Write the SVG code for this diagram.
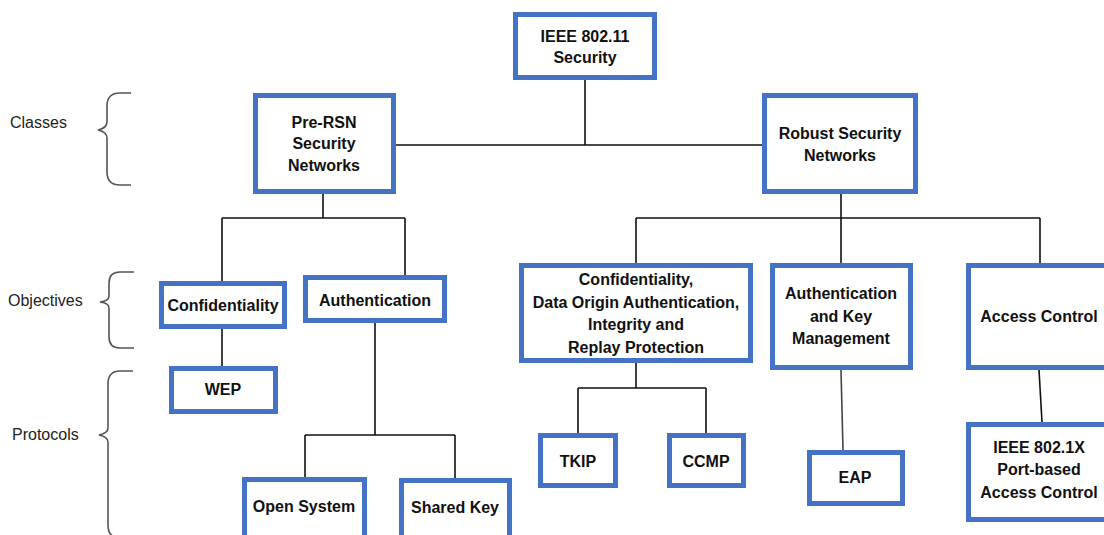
<svg xmlns="http://www.w3.org/2000/svg" width="1104" height="535" viewBox="0 0 1104 535">
<style>
.box{fill:#fff;stroke:#4472c4;stroke-width:5}
.t{font-family:"Liberation Sans",Arial,sans-serif;font-weight:bold;font-size:16px;fill:#111;text-anchor:middle}
.s{font-family:"Liberation Sans",Arial,sans-serif;font-size:16px;fill:#222}
.ln{stroke:#111;stroke-width:1.6;fill:none}
.br{stroke:#555;stroke-width:1.6;fill:none}
</style>
<rect width="1104" height="535" fill="#fff"/>
<g id="side-labels">
<text class="s" x="10" y="128">Classes</text>
<text class="s" x="8" y="306">Objectives</text>
<text class="s" x="12" y="440">Protocols</text>
<path class="br" d="M131,93 H120 Q107,93 107,106 V122 Q107,128 98,130 Q107,132 107,138 V172 Q107,185 120,185 H131"/>
<path class="br" d="M134,272 H120 Q109,272 109,283 V296 Q109,301 100,302 Q109,303 109,308 V337 Q109,348 120,348 H134"/>
<path class="br" d="M133,371 H120 Q108,371 108,384 V428 Q108,433 99,435 Q108,437 108,442 V525 Q108,538 120,538"/>
</g>
<g id="connectors">
<path class="ln" d="M585,80 V145 M395,145 H763"/>
<path class="ln" d="M323,194 V218 M222,218 H405 M222,218 V281 M405,218 V275"/>
<path class="ln" d="M222,329 V366"/>
<path class="ln" d="M375,323 V435 M305,435 H455 M305,435 V477 M455,435 V478"/>
<path class="ln" d="M841,194 V218 M636,218 H1040 M636,218 V263 M841,218 V263 M1040,218 V263"/>
<path class="ln" d="M636,363 V388 M578,388 H706 M578,388 V433 M706,388 V433"/>
<path class="ln" style="stroke:#444" d="M841,370 L843,450"/>
<path class="ln" d="M1039,370 L1042,422"/>
</g>
<g id="n-ieee">
<rect class="box" x="515.5" y="14.5" width="139" height="63"/>
<text class="t" x="585" y="42">IEEE 802.11</text>
<text class="t" x="585" y="63">Security</text>
</g>
<g id="n-prersn">
<rect class="box" x="255.5" y="95.5" width="138" height="96"/>
<text class="t" x="324" y="128">Pre-RSN</text>
<text class="t" x="324" y="149">Security</text>
<text class="t" x="324" y="171">Networks</text>
</g>
<g id="n-rsn">
<rect class="box" x="764.5" y="95.5" width="151" height="96"/>
<text class="t" x="840" y="139">Robust Security</text>
<text class="t" x="840" y="161">Networks</text>
</g>
<g id="n-conf">
<rect class="box" x="161.5" y="283.5" width="123" height="43"/>
<text class="t" x="223" y="311">Confidentiality</text>
</g>
<g id="n-auth">
<rect class="box" x="305.5" y="277.5" width="139" height="43"/>
<text class="t" x="375" y="306">Authentication</text>
</g>
<g id="n-wep">
<rect class="box" x="171.5" y="368.5" width="104" height="43"/>
<text class="t" x="223" y="395">WEP</text>
</g>
<g id="n-open">
<rect class="box" x="244.5" y="479.5" width="120" height="65"/>
<text class="t" x="304" y="512">Open System</text>
</g>
<g id="n-shared">
<rect class="box" x="401.5" y="480.5" width="108" height="65"/>
<text class="t" x="455" y="513">Shared Key</text>
</g>
<g id="n-confdata">
<rect class="box" x="521.5" y="265.5" width="229" height="95"/>
<text class="t" x="636" y="285">Confidentiality,</text>
<text class="t" x="636" y="308">Data Origin Authentication,</text>
<text class="t" x="636" y="330">Integrity and</text>
<text class="t" x="636" y="353">Replay Protection</text>
</g>
<g id="n-authkey">
<rect class="box" x="772.5" y="265.5" width="138" height="102"/>
<text class="t" x="841" y="299">Authentication</text>
<text class="t" x="841" y="322">and Key</text>
<text class="t" x="841" y="344">Management</text>
</g>
<g id="n-access">
<rect class="box" x="968.5" y="265.5" width="145" height="102"/>
<text class="t" x="1039" y="322">Access Control</text>
</g>
<g id="n-tkip">
<rect class="box" x="540.5" y="435.5" width="75" height="50"/>
<text class="t" x="578" y="467">TKIP</text>
</g>
<g id="n-ccmp">
<rect class="box" x="669.5" y="435.5" width="74" height="50"/>
<text class="t" x="706" y="467">CCMP</text>
</g>
<g id="n-eap">
<rect class="box" x="809.5" y="452.5" width="93" height="51"/>
<text class="t" x="855" y="483">EAP</text>
</g>
<g id="n-8021x">
<rect class="box" x="968.5" y="424.5" width="145" height="95"/>
<text class="t" x="1039" y="453">IEEE 802.1X</text>
<text class="t" x="1039" y="475">Port-based</text>
<text class="t" x="1039" y="498">Access Control</text>
</g>
</svg>
